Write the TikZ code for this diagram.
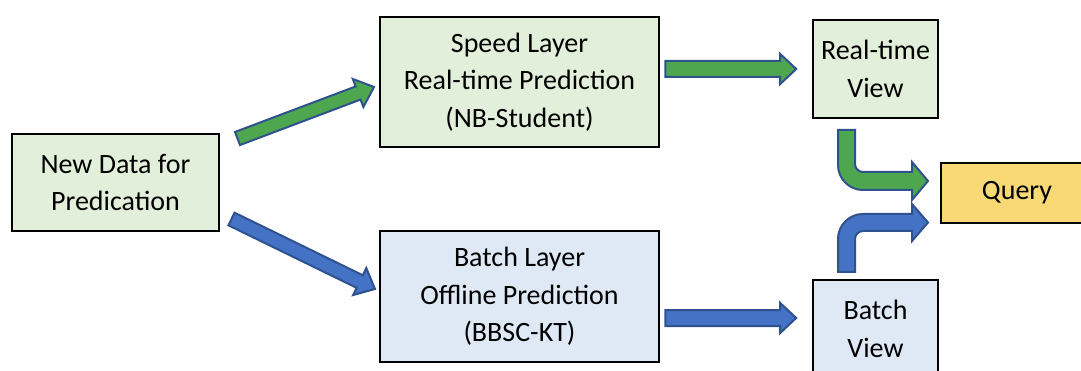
\documentclass[tikz,border=0pt]{standalone}
\usepackage{fontspec}
\setmainfont{Carlito}
\usetikzlibrary{calc}

\definecolor{boxgreen}{RGB}{226,239,218}
\definecolor{boxblue}{RGB}{222,233,245}
\definecolor{boxgold}{RGB}{249,216,118}
\definecolor{arrgreen}{RGB}{78,167,78}
\definecolor{arrblue}{RGB}{68,114,196}
\definecolor{arredge}{RGB}{47,82,143}

\tikzset{
  stage/.style={draw=black, line width=1.6pt, align=center, inner sep=0pt,
    font=\fontsize{28}{37.5}\selectfont},
  greenbox/.style={stage, fill=boxgreen},
  bluebox/.style={stage, fill=boxblue},
  goldbox/.style={stage, fill=boxgold},
  flowgreen/.style={fill=arrgreen, draw=arredge, line width=2pt, line join=miter},
  flowblue/.style={fill=arrblue, draw=arredge, line width=2pt, line join=miter},
}

% block arrow: #1 style, #2 tail, #3 tip, #4 half shaft, #5 half head, #6 head length
\newcommand\blockarrow[6]{%
  \coordinate (ba-c) at ($(#3)!#6!(#2)$);
  \draw[#1] ($(#2)!#4!90:(#3)$) -- ($(ba-c)!#4!90:(#3)$) -- ($(ba-c)!#5!90:(#3)$)
    -- (#3) -- ($(ba-c)!#5!-90:(#3)$) -- ($(ba-c)!#4!-90:(#3)$)
    -- ($(#2)!#4!-90:(#3)$) -- cycle;
}

\begin{document}
\begin{tikzpicture}[x=1pt, y=-1pt]
  \useasboundingbox (0,0) rectangle (1081,371);
  \clip (0,0) rectangle (1081,371);

  % stages
  \node[greenbox, minimum width=207pt, minimum height=97pt] (new) at (115.5,182.5) {New Data for\\Predication};
  \node[greenbox, minimum width=279pt, minimum height=130pt] (speed) at (519.5,82) {Speed Layer\\Real-time Prediction\\(NB-Student)};
  \node[bluebox, minimum width=279pt, minimum height=131pt] (batch) at (519.5,296.5) {Batch Layer\\Offline Prediction\\(BBSC-KT)};
  \node[greenbox, minimum width=125pt, minimum height=98pt] (rtview) at (875.5,69) {Real-time\\View};
  \node[bluebox, minimum width=125pt, minimum height=98pt] (bview) at (875.5,329) {Batch\\View};
  \node[goldbox, minimum width=152pt, minimum height=60pt] (query) at (1017,193) {Query};

  % arrow end points
  \coordinate (g1t) at (237.5,138.5);
  \coordinate (g1h) at (374,87);
  \coordinate (b1t) at (231.5,219);
  \coordinate (b1h) at (375,289);
  \coordinate (g2t) at ($(speed.east)+(5.5,-13)$);
  \coordinate (g2h) at ($(rtview.west)+(-16,0)$);
  \coordinate (b2t) at ($(batch.east)+(5.5,21.5)$);
  \coordinate (b2h) at ($(bview.west)+(-16,-11)$);

  \blockarrow{flowgreen}{g1t}{g1h}{7pt}{15pt}{17pt}
  \blockarrow{flowblue}{b1t}{b1h}{7pt}{15pt}{17pt}
  \blockarrow{flowgreen}{g2t}{g2h}{8pt}{15pt}{16pt}
  \blockarrow{flowblue}{b2t}{b2h}{8pt}{15pt}{16pt}

  % bent arrows merging into the query
  \draw[flowgreen] (838,130) -- (838,165) .. controls (838,178.8) and (849.2,190) .. (863,190)
    -- (912,190) -- (912,200) -- (928,181) -- (912,162) -- (912,172) -- (863,172)
    .. controls (858.6,172) and (855,168.4) .. (855,164) -- (855,130) -- cycle;
  \draw[flowblue] (838,272) -- (838,239) .. controls (838,225.2) and (849.2,214) .. (863,214)
    -- (912,214) -- (912,204) -- (928,222.5) -- (912,241) -- (912,231) -- (863,231)
    .. controls (858.6,231) and (855,234.6) .. (855,239) -- (855,272) -- cycle;
\end{tikzpicture}
\end{document}
